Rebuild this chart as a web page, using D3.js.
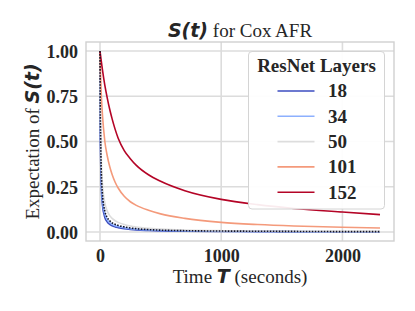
<!DOCTYPE html>
<html lang="en">
<head>
<meta charset="UTF-8">
<title>S(t) for Cox AFR</title>
<style>
    body { margin: 0; background: #fff; }
    .serif { font-family: "Liberation Serif", "Times New Roman", serif; }
    .math { font-family: "DejaVu Sans", sans-serif; font-weight: bold; font-style: italic; }
</style>
<script src="https://d3js.org/d3.v7.min.js"></script>
</head>
<body>
<div id="chart"></div>
<script>
    // time grid (seconds) that the curves were read at
    var times = [0, 2, 5, 10, 20, 40, 60, 80, 100, 125, 150, 200, 250, 300, 400, 500, 700, 1000, 1300, 1600, 2000, 2310];

    var layers = ["18", "34", "50", "101", "152"];
    var colors = ["#3b4cc0", "#8db0fe", "#dddddd", "#f49a7b", "#b40426"];

    var s18  = [1.0, 0.60, 0.42, 0.27, 0.15, 0.08, 0.055, 0.042, 0.034, 0.028, 0.024, 0.018, 0.014, 0.011, 0.008, 0.006, 0.004, 0.003, 0.002, 0.0015, 0.001, 0.001];
    var s34  = [1.0, 0.66, 0.48, 0.32, 0.18, 0.10, 0.068, 0.052, 0.042, 0.035, 0.030, 0.023, 0.018, 0.015, 0.011, 0.009, 0.006, 0.004, 0.003, 0.002, 0.0015, 0.001];
    var s50  = [1.0, 0.75, 0.58, 0.42, 0.27, 0.16, 0.115, 0.090, 0.075, 0.062, 0.053, 0.041, 0.033, 0.027, 0.020, 0.016, 0.011, 0.007, 0.005, 0.004, 0.003, 0.003];
    var s101 = [1.0, 0.93, 0.86, 0.77, 0.65, 0.50, 0.42, 0.362, 0.318, 0.275, 0.243, 0.197, 0.167, 0.147, 0.12, 0.10, 0.075, 0.053, 0.041, 0.033, 0.026, 0.022];
    var s152 = [1.0, 0.989, 0.973, 0.947, 0.897, 0.81, 0.74, 0.678, 0.625, 0.567, 0.518, 0.45, 0.405, 0.368, 0.316, 0.28, 0.228, 0.18, 0.151, 0.13, 0.11, 0.096];
    // dotted reference curve (not in legend)
    var sRef = [1.0, 0.70, 0.52, 0.35, 0.21, 0.115, 0.08, 0.062, 0.05, 0.042, 0.036, 0.028, 0.022, 0.018, 0.013, 0.010, 0.007, 0.005, 0.004, 0.003, 0.002, 0.002];

    var series = [s18, s34, s50, s101, s152];
    var xTicks = [0, 1000, 2000];
    var yTicks = [0, 0.25, 0.5, 0.75, 1.0];

    var width = 415, height = 311;
    var pLeft = 86, pRight = 394, pTop = 42, pBottom = 241;

    var svg = d3.select("#chart").append("svg").attr("width", width).attr("height", height);

    var x = d3.scaleLinear().domain([-115.5, 2425.5]).range([pLeft, pRight]);
    var y = d3.scaleLinear().domain([-0.05, 1.05]).range([pBottom, pTop]);

    // plot background + grid
    svg.append("rect").attr("x", pLeft).attr("y", pTop).attr("width", pRight - pLeft).attr("height", pBottom - pTop)
        .attr("fill", "#fff");

    svg.append("g").selectAll("line").data(yTicks).enter().append("line")
        .attr("x1", pLeft).attr("x2", pRight)
        .attr("y1", d => y(d)).attr("y2", d => y(d))
        .attr("stroke", "#dcdcdc").attr("stroke-width", 1.6);
    svg.append("g").selectAll("line").data(xTicks).enter().append("line")
        .attr("x1", d => x(d)).attr("x2", d => x(d))
        .attr("y1", pTop).attr("y2", pBottom)
        .attr("stroke", "#dcdcdc").attr("stroke-width", 1.6);

    // tick labels through d3 axes, no domain/tick lines
    var yAxis = svg.append("g").attr("transform", "translate(" + pLeft + ",0)")
        .call(d3.axisLeft(y).tickValues(yTicks).tickFormat(d3.format(".2f")).tickSize(0).tickPadding(8));
    var xAxis = svg.append("g").attr("transform", "translate(0," + pBottom + ")")
        .call(d3.axisBottom(x).tickValues(xTicks).tickFormat(d3.format("d")).tickSize(0).tickPadding(8));
    [yAxis, xAxis].forEach(function (a) {
        a.select(".domain").remove();
        a.attr("font-family", null).attr("font-size", null);
        a.selectAll("text").attr("class", "serif").style("font-size", "18px").style("font-weight", "bold")
            .attr("fill", "#262626");
    });
    yAxis.selectAll("text").attr("dy", "0.36em");

    // curves
    var line = d3.line().x((d, i) => x(times[i])).y(d => y(d)).curve(d3.curveMonotoneX);
    svg.append("g").selectAll("path").data(series).enter().append("path")
        .attr("d", d => line(d))
        .attr("fill", "none")
        .attr("stroke", (d, i) => colors[i])
        .attr("stroke-width", 1.6);

    svg.append("path").attr("d", line(sRef))
        .attr("fill", "none").attr("stroke", "#141428")
        .attr("stroke-width", 1.6).attr("stroke-dasharray", "1.6,1.4");

    // frame
    svg.append("rect").attr("x", pLeft).attr("y", pTop).attr("width", pRight - pLeft).attr("height", pBottom - pTop)
        .attr("fill", "none").attr("stroke", "#d0d0d0").attr("stroke-width", 1.4);

    // title
    var title = svg.append("text").attr("x", (pLeft + pRight) / 2).attr("y", 36.5)
        .attr("text-anchor", "middle").attr("fill", "#262626").style("font-size", "19px");
    title.append("tspan").attr("class", "math").text("S(t)");
    title.append("tspan").attr("class", "serif").text(" for Cox AFR");

    // x label
    var xl = svg.append("text").attr("x", (pLeft + pRight) / 2).attr("y", 283)
        .attr("text-anchor", "middle").attr("fill", "#262626").style("font-size", "19px");
    xl.append("tspan").attr("class", "serif").text("Time ");
    xl.append("tspan").attr("class", "math").text("T");
    xl.append("tspan").attr("class", "serif").text(" (seconds)");

    // y label
    var yl = svg.append("text").attr("transform", "translate(38.5," + ((pTop + pBottom) / 2) + ") rotate(-90)")
        .attr("text-anchor", "middle").attr("fill", "#262626").style("font-size", "19px");
    yl.append("tspan").attr("class", "serif").text("Expectation of ");
    yl.append("tspan").attr("class", "math").text("S(t)");

    // legend
    var lg = svg.append("g");
    lg.append("rect").attr("x", 248.5).attr("y", 51.5).attr("width", 136).attr("height", 157.5)
        .attr("rx", 3.5).attr("fill", "#fff").attr("fill-opacity", 0.92)
        .attr("stroke", "#d4d4d4").attr("stroke-width", 1);
    lg.append("text").attr("class", "serif").attr("x", 316.5).attr("y", 72)
        .attr("text-anchor", "middle").style("font-size", "19px").style("font-weight", "bold")
        .attr("fill", "#262626").text("ResNet Layers");
    var rows = lg.selectAll("g.row").data(layers).enter().append("g")
        .attr("transform", (d, i) => "translate(0," + (91 + i * 25.3) + ")");
    rows.append("line").attr("x1", 277.5).attr("x2", 314.5).attr("y1", 0).attr("y2", 0)
        .attr("stroke", (d, i) => colors[i]).attr("stroke-width", 1.6);
    rows.append("text").attr("class", "serif").attr("x", 328).attr("y", 6.3)
        .style("font-size", "19px").style("font-weight", "bold").attr("fill", "#262626")
        .text(d => d);
</script>
</body>
</html>
